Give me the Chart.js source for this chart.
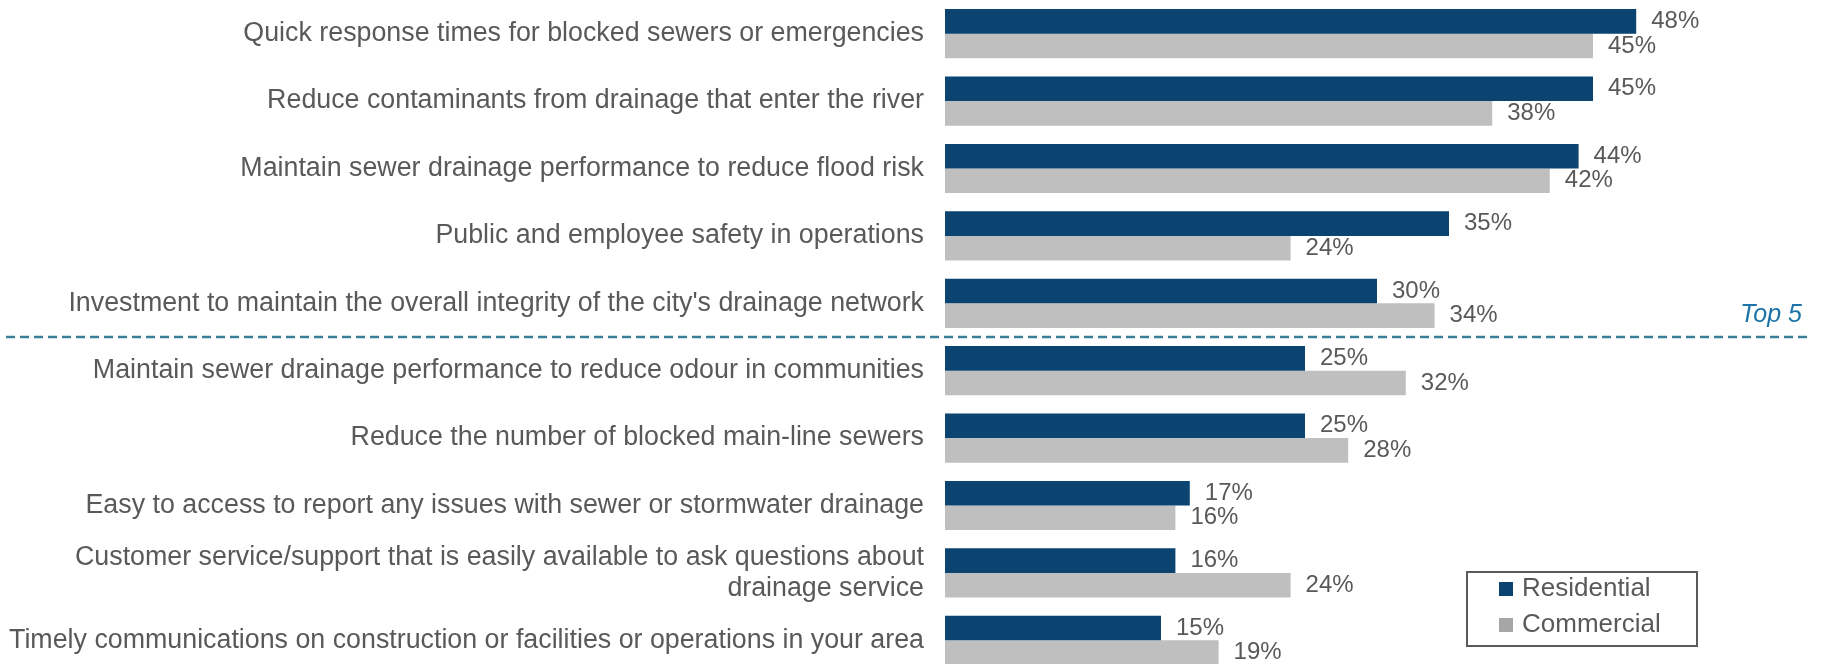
<!DOCTYPE html>
<html>
<head>
<meta charset="utf-8">
<script src="https://cdn.jsdelivr.net/npm/chart.js@4"></script>
<style>
  html, body { margin: 0; padding: 0; background: #fff; overflow: hidden; }
  #wrap { width: 1822px; height: 664px; overflow: hidden; }
</style>
</head>
<body>
<div id="wrap"><canvas id="myChart" width="1822" height="674"></canvas></div>
<script>
const categories = [
  "Quick response times for blocked sewers or emergencies",
  "Reduce contaminants from drainage that enter the river",
  "Maintain sewer drainage performance to reduce flood risk",
  "Public and employee safety in operations",
  "Investment to maintain the overall integrity of the city's drainage network",
  "Maintain sewer drainage performance to reduce odour in communities",
  "Reduce the number of blocked main-line sewers",
  "Easy to access to report any issues with sewer or stormwater drainage",
  ["Customer service/support that is easily available to ask questions about", "drainage service"],
  "Timely communications on construction or facilities or operations in your area"
]
const residential = [48, 45, 44, 35, 30, 25, 25, 17, 16, 15]
const commercial = [45, 38, 42, 24, 34, 32, 28, 16, 24, 19]
const topCount = 5

const FONT = "'Liberation Sans', Arial, sans-serif"
const GREY_TEXT = "#595959"

// value labels, the "Top 5" divider and the boxed legend
const extras = {
  id: "extras",
  afterDatasetsDraw(chart) {
    const ctx = chart.ctx
    const area = chart.chartArea
    const y = chart.scales.y

    ctx.save()
    ctx.font = "24px " + FONT
    ctx.fillStyle = GREY_TEXT
    ctx.textBaseline = "middle"
    ctx.textAlign = "left"
    chart.data.datasets.forEach((ds, i) => {
      chart.getDatasetMeta(i).data.forEach((bar, j) => {
        ctx.fillText(ds.data[j] + "%", bar.x + 15, bar.y)
      })
    })

    // divider under the top five
    const lineY = (y.getPixelForValue(topCount - 1) + y.getPixelForValue(topCount)) / 2
    ctx.strokeStyle = "#3a7f96"
    ctx.lineWidth = 2.5
    ctx.setLineDash([9, 5])
    ctx.beginPath()
    ctx.moveTo(6, lineY)
    ctx.lineTo(area.right - 2, lineY)
    ctx.stroke()
    ctx.setLineDash([])

    ctx.font = "italic 25px " + FONT
    ctx.fillStyle = "#1b73a8"
    ctx.textAlign = "right"
    ctx.textBaseline = "alphabetic"
    ctx.fillText("Top " + topCount, area.right - 7, lineY - 15)

    // legend box
    const bx = area.right - 342, by = 572, bw = 230, bh = 74
    ctx.strokeStyle = "#5a5a5a"
    ctx.lineWidth = 2
    ctx.strokeRect(bx, by, bw, bh)
    ctx.font = "26px " + FONT
    ctx.textAlign = "left"
    ctx.textBaseline = "middle"
    chart.data.datasets.forEach((ds, i) => {
      const cy = by + 17 + i * 36
      ctx.fillStyle = ds.legendColor
      ctx.fillRect(bx + 32, cy - 7, 14, 14)
      ctx.fillStyle = GREY_TEXT
      ctx.fillText(ds.label, bx + 55, cy)
    })
    ctx.restore()
  }
}

new Chart("myChart", {
  type: "bar",
  data: {
    labels: categories,
    datasets: [{
      label: "Residential",
      data: residential,
      backgroundColor: "#0b4371",
      legendColor: "#0b4371",
      categoryPercentage: 0.73,
      barPercentage: 1
    }, {
      label: "Commercial",
      data: commercial,
      backgroundColor: "#bfbfbf",
      legendColor: "#a6a6a6",
      categoryPercentage: 0.73,
      barPercentage: 1
    }]
  },
  options: {
    indexAxis: "y",
    responsive: false,
    animation: false,
    layout: {padding: {left: 0, right: 13, top: 0, bottom: 0}},
    plugins: {
      legend: {display: false},
      tooltip: {enabled: false}
    },
    scales: {
      x: {
        display: false,
        min: 0,
        max: 60
      },
      y: {
        // fixed label column, and no extra room above/below the bars
        afterFit(scale) {
          scale.width = 945
          scale.paddingTop = 0
          scale.paddingBottom = 0
        },
        border: {display: false},
        grid: {display: false, drawTicks: false},
        ticks: {
          padding: 21,
          color: GREY_TEXT,
          font: {family: FONT, size: 26.8, lineHeight: 1.15}
        }
      }
    }
  },
  plugins: [extras]
})
</script>
</body>
</html>
